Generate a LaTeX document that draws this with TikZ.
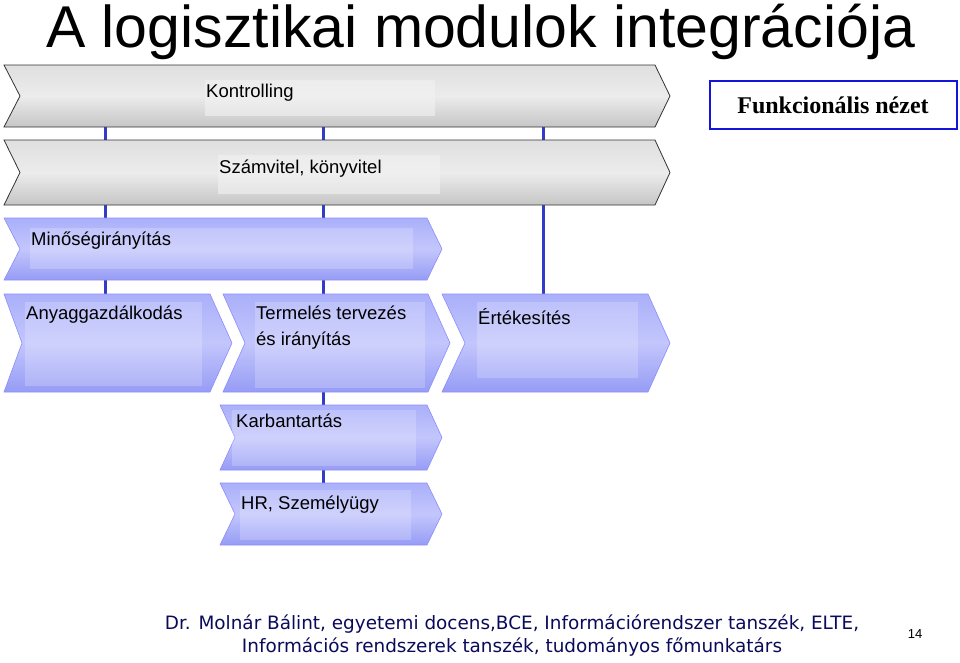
\documentclass[tikz,border=0pt]{standalone}
\usepackage{fontspec}
\setmainfont{Liberation Sans}
\newfontfamily\serifb{Liberation Serif}
\newfontfamily\dvs{DejaVu Sans}
\begin{document}
\begin{tikzpicture}[x=1pt,y=-1pt,
  gray/.style={draw=black!80,line width=0.8pt,top color=gray!25,bottom color=gray!45,middle color=gray!15},
  blu/.style={draw=blue!45!white,line width=0.6pt,top color={rgb,255:red,170;green,176;blue,250},bottom color={rgb,255:red,150;green,156;blue,245},middle color={rgb,255:red,195;green,198;blue,252}},
  lab/.style={anchor=north west,font=\fontsize{18.5}{22}\selectfont,inner sep=0pt,align=left},
  conn/.style={draw={rgb,255:red,50;green,60;blue,200},line width=3pt}]
\useasboundingbox (0,0) rectangle (960,662);
\newcommand\chev[7]{% style, x1, y1, x2(top right), tip, y2, notch
  \path[#1] (#2,#3) -- (#4,#3) -- (#5,{(#3+#6)/2}) -- (#4,#6) -- (#2,#6) -- (#7,{(#3+#6)/2}) -- cycle;}
% connectors
\coordinate (c1t) at (105,127); \coordinate (c1b) at (105,295);
\coordinate (c2t) at (323,127); \coordinate (c2b) at (323,485);
\coordinate (c3t) at (543,127); \coordinate (c3b) at (543,295);
\draw[conn] (c1t)--(c1b); \draw[conn] (c2t)--(c2b); \draw[conn] (c3t)--(c3b);
% chevrons
\chev{gray}{4}{65}{655}{670}{127}{20}
\chev{gray}{4}{140}{655}{670}{205}{20}
\chev{blu}{4}{218}{427}{442}{280}{20}
\chev{blu}{4}{294}{210}{232}{392}{22}
\chev{blu}{223}{294}{428}{450}{392}{245}
\chev{blu}{442}{294}{648}{670}{392}{465}
\chev{blu}{220}{405}{427}{442}{470}{235}
\chev{blu}{220}{483}{427}{442}{545}{235}
% inner panels
\fill[gray!10,opacity=0.6] (205,80) rectangle (435,116);
\fill[gray!10,opacity=0.6] (218,155) rectangle (440,194);
\fill[white,opacity=0.2] (30,228) rectangle (413,269);
\fill[white,opacity=0.2] (25,302) rectangle (202,386);
\fill[white,opacity=0.2] (255,302) rectangle (425,388);
\fill[white,opacity=0.2] (477,302) rectangle (638,378);
\fill[white,opacity=0.2] (232,410) rectangle (416,466);
\fill[white,opacity=0.2] (240,490) rectangle (411,540);
% labels
\node[lab] (k) at (206,84) {Kontrolling};
\node[lab] (s) at (219,160) {Számvitel, könyvitel};
\node[lab] (m) at (31,232) {Minőségirányítás};
\node[lab] (a) at (26,306) {Anyaggazdálkodás};
\node[lab,align=left] (t) at (256,306) {Termelés tervezés\\[4pt]és irányítás};
\node[lab] (e) at (478,308) {Értékesítés};
\node[lab] (kb) at (236,414) {Karbantartás};
\node[lab] (hr) at (241,496) {HR, Személyügy};
% title
\node[anchor=base west,inner sep=0pt,font=\fontsize{59}{60}\selectfont] (title) at (46,47) {A logisztikai modulok integrációja};
% view box
\node[draw={rgb,255:red,20;green,20;blue,220},line width=2pt,minimum width=247pt,minimum height=48pt,font=\serifb\bfseries\fontsize{24}{26}\selectfont] (fn) at (833,105) {Funkcionális nézet};
% footer
\node[font=\dvs\fontsize{18.4}{23}\selectfont,text={rgb,255:red,10;green,10;blue,90},align=center] (ft) at (512,636) {Dr. Molnár Bálint, egyetemi docens,BCE, Információrendszer tanszék, ELTE,\\Információs rendszerek tanszék, tudományos főmunkatárs};
\node[font=\fontsize{13}{14}\selectfont] (pg) at (915,634) {14};
\end{tikzpicture}
\end{document}
